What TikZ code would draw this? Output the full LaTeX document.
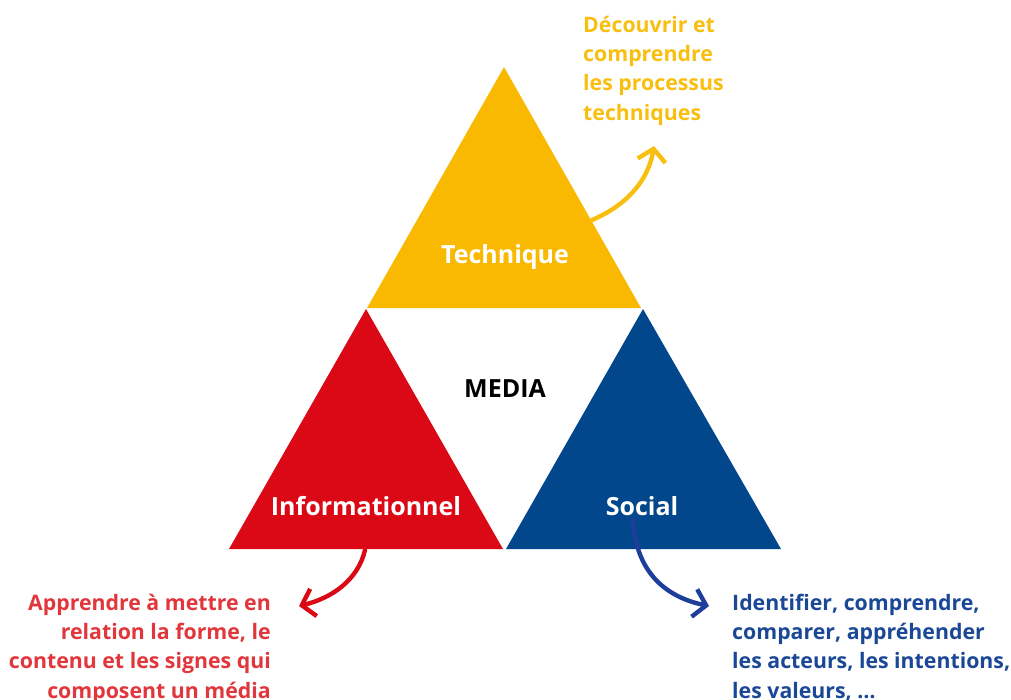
\documentclass[tikz,border=0pt]{standalone}
\usepackage{fontspec}
\setmainfont{Open Sans}
\usetikzlibrary{arrows.meta}
\definecolor{tyellow}{HTML}{F9B900}
\definecolor{tred}{HTML}{DB0816}
\definecolor{tblue}{HTML}{02468B}
\definecolor{ytext}{HTML}{F8BF10}
\definecolor{rtext}{HTML}{E0363C}
\definecolor{btext}{HTML}{1B4896}
\definecolor{barrow}{HTML}{1E3E9C}
\begin{document}
\begin{tikzpicture}[x=1pt,y=-1pt,
  lbl/.style={font=\fontsize{25}{30}\selectfont\bfseries, inner sep=0pt},
  desc/.style={font=\fontsize{21.3}{29.3}\selectfont\bfseries, inner sep=0pt},
  curvy/.style={line width=4.4pt, line cap=round, -{Straight Barb[length=12pt,width=28pt,line width=4.4pt]}}]
\useasboundingbox (0,0) rectangle (1011,699);
% triangles
\fill[tyellow] (367,308) -- (641,308) -- (504,67) -- cycle;
\fill[tred] (229,549) -- (503,549) -- (366,309) -- cycle;
\fill[tblue] (506,549) -- (781,549) -- (643,309) -- cycle;
% labels
\node[lbl, text=white] (tech) at (505,257) {Technique};
\node[lbl, text=black] (media) at (505,389) {MEDIA};
\node[lbl, text=white] (info) at (366,506) {Informationnel};
\node[lbl, text=white] (soc) at (642,506) {Social};
% descriptions (anchored at the baseline of their last line)
\node[desc, text=ytext, align=left, anchor=base west] (dy) at (583,120) {Découvrir et\\comprendre\\les processus\\techniques};
\node[desc, text=rtext, align=right, anchor=base east] (dr) at (271,698) {Apprendre à mettre en\\relation la forme, le\\contenu et les signes qui\\composent un média};
\node[desc, text=btext, align=left, anchor=base west] (db) at (732,698) {Identifier, comprendre,\\comparer, appréhender\\les acteurs, les intentions,\\les valeurs, …};
% arrow endpoints
\coordinate (ys) at (592,220);
\coordinate (ye) at (654,146);
\coordinate (rs) at (365,550);
\coordinate (re) at (299,606);
\coordinate (bs) at (633,520);
\coordinate (be) at (709,606);
\draw[curvy, ytext] (ys) .. controls (625,206) and (648,182) .. (ye);
\draw[curvy, tred] (rs) .. controls (358,580) and (332,598) .. (re);
\draw[curvy, barrow] (bs) .. controls (636,576) and (670,598) .. (be);
\end{tikzpicture}
\end{document}
